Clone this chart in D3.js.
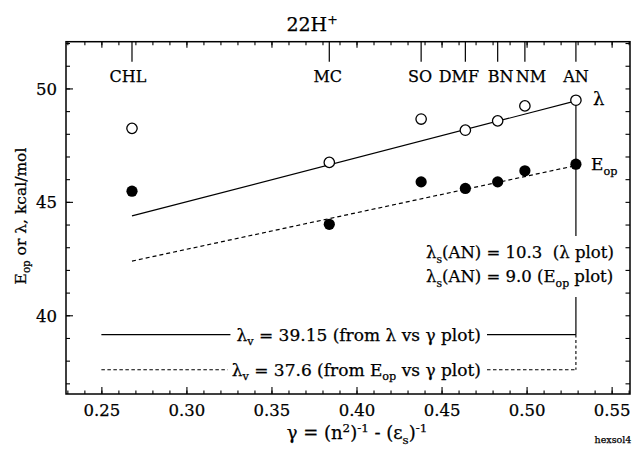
<!DOCTYPE html>
<html><head><meta charset="utf-8">
<script src="https://cdn.jsdelivr.net/npm/d3@7"></script>
<style>
html,body{margin:0;padding:0;background:#fff;}
svg text{font-family:"DejaVu Serif","Liberation Serif",serif !important;fill:#000;white-space:pre;stroke:#000;stroke-width:0.25px;}
</style></head><body>
<svg id="chart" width="639" height="449"></svg>
<script>
// Solvents and their polarity function gamma
const solvents = ["CHL", "MC", "SO", "DMF", "BN", "NM", "AN"];
const gamma = [0.268, 0.384, 0.438, 0.464, 0.483, 0.499, 0.529];
// Reorganization energy (open circles) and optical band energy (filled circles), kcal/mol
const lambdaVals = [48.24, 46.74, 48.65, 48.16, 48.57, 49.23, 49.48];
const eopVals = [45.47, 44.01, 45.88, 45.59, 45.88, 46.37, 46.66];
// Fit results
const lambdaV = 39.15, lambdaS = 10.3;   // from lambda vs gamma
const eopV = 37.6, eopS = 9.0;           // from Eop vs gamma
const fitStart = [44.38, 42.39];         // fit lines at the CHL end (lambda, Eop)
// Axis ticks
const xTickLabels = [0.25, 0.30, 0.35, 0.40, 0.45, 0.50, 0.55];
const yTickLabels = [40, 45, 50];
const xMinor = d3.range(23, 57).map(d => d / 100);
const yMinor = d3.range(37, 53);

// label nudges so neighbouring solvent names do not collide
const labelNudge = {CHL: -4, MC: -1.5, SO: -1, DMF: -6.5, BN: 3, NM: 6, AN: 0};

const svg = d3.select("#chart");
const L = 66, R = 630, T = 41.7, B = 394;
const x = d3.scaleLinear().domain([0.2292, 0.5608]).range([L, R]);
const y = d3.scaleLinear().domain([36.53, 52.06]).range([B, T]);

function rich(g, px, py, parts, size, anchor) {
  const t = g.append("text").attr("x", px).attr("y", py)
    .attr("font-size", size).attr("text-anchor", anchor || "start");
  let shift = 0;
  parts.forEach(([s, k]) => {
    const target = k === "sub" ? 0.28 * size : k === "sup" ? -0.38 * size : 0;
    t.append("tspan").attr("dy", target - shift)
      .attr("font-size", k === "n" ? size : size * 0.66).text(s);
    shift = target;
  });
  return t;
}

// axes: inward ticks on all four sides
function styleAxis(g) {
  g.select(".domain").remove();
  g.selectAll(".tick line").attr("stroke", "#000").attr("stroke-width", 1.1);
  g.selectAll("text").attr("fill", "#000");
}
svg.append("g").attr("transform", `translate(0,${B})`)
  .call(d3.axisBottom(x).tickValues(xMinor).tickSize(-3.5).tickFormat("")).call(styleAxis);
const xb = svg.append("g").attr("transform", `translate(0,${B})`)
  .call(d3.axisBottom(x).tickValues(xTickLabels).tickSize(-7).tickFormat(d3.format(".2f"))).call(styleAxis);
xb.selectAll("text").attr("y", 22).attr("dy", 0).attr("font-size", 16.5);
svg.append("g").attr("transform", `translate(0,${T})`)
  .call(d3.axisTop(x).tickValues(xMinor).tickSize(-3.5).tickFormat("")).call(styleAxis);
svg.append("g").attr("transform", `translate(0,${T})`)
  .call(d3.axisTop(x).tickValues(xTickLabels).tickSize(-6).tickFormat("")).call(styleAxis);

svg.append("g").attr("transform", `translate(${L},0)`)
  .call(d3.axisLeft(y).tickValues(yMinor).tickSize(-4).tickFormat("")).call(styleAxis);
const yl = svg.append("g").attr("transform", `translate(${L},0)`)
  .call(d3.axisLeft(y).tickValues(yTickLabels).tickSize(-7)).call(styleAxis);
yl.selectAll("text").attr("x", -9).attr("dy", "0.36em").attr("font-size", 16.5);
svg.append("g").attr("transform", `translate(${R},0)`)
  .call(d3.axisRight(y).tickValues(yMinor).tickSize(-4.5).tickFormat("")).call(styleAxis);

// frame
svg.append("rect").attr("x", L).attr("y", T).attr("width", R - L).attr("height", B - T)
  .attr("fill", "none").attr("stroke", "#000").attr("stroke-width", 1.5);

// solvent markers along the top
solvents.forEach((s, i) => {
  svg.append("line").attr("x1", x(gamma[i])).attr("x2", x(gamma[i]))
    .attr("y1", T).attr("y2", T + 20).attr("stroke", "#000").attr("stroke-width", 1.2);
  svg.append("text").attr("x", x(gamma[i]) + labelNudge[s]).attr("y", 82)
    .attr("text-anchor", "middle").attr("font-size", 16).text(s);
});

const last = gamma.length - 1;
const g0 = gamma[0], gN = gamma[last];
// linear fits
svg.append("line").attr("x1", x(g0)).attr("y1", y(fitStart[0]))
  .attr("x2", x(gN)).attr("y2", y(lambdaV + lambdaS))
  .attr("stroke", "#000").attr("stroke-width", 1.2);
svg.append("line").attr("x1", x(g0)).attr("y1", y(fitStart[1]))
  .attr("x2", x(gN)).attr("y2", y(eopV + eopS))
  .attr("stroke", "#000").attr("stroke-width", 1.2).attr("stroke-dasharray", "4,3");

// vertical drop at AN, broken around the lambda_s notes
const xa = x(gN);
svg.append("line").attr("x1", xa).attr("x2", xa).attr("y1", y(lambdaV + lambdaS)).attr("y2", 236)
  .attr("stroke", "#000").attr("stroke-width", 1.2);
svg.append("line").attr("x1", xa).attr("x2", xa).attr("y1", 297).attr("y2", y(lambdaV))
  .attr("stroke", "#000").attr("stroke-width", 1.2);
svg.append("line").attr("x1", xa).attr("x2", xa).attr("y1", y(lambdaV)).attr("y2", y(eopV))
  .attr("stroke", "#000").attr("stroke-width", 1.1).attr("stroke-dasharray", "3,2.5");

// intercept notes with leader lines
const t1 = rich(svg, 481, y(lambdaV) + 6, [["λ", "n"], ["v", "sub"], [" = 39.15 (from λ vs γ plot)", "n"]], 17, "end");
const t2 = rich(svg, 481, y(eopV) + 6, [["λ", "n"], ["v", "sub"], [" = 37.6 (from E", "n"], ["op", "sub"], [" vs γ plot)", "n"]], 17, "end");
const b1 = t1.node().getBBox(), b2 = t2.node().getBBox();
svg.append("line").attr("x1", x(0.25)).attr("x2", b1.x - 6).attr("y1", y(lambdaV)).attr("y2", y(lambdaV))
  .attr("stroke", "#000").attr("stroke-width", 1.2);
svg.append("line").attr("x1", b1.x + b1.width + 6).attr("x2", xa).attr("y1", y(lambdaV)).attr("y2", y(lambdaV))
  .attr("stroke", "#000").attr("stroke-width", 1.2);
svg.append("line").attr("x1", x(0.25)).attr("x2", b2.x - 4).attr("y1", y(eopV)).attr("y2", y(eopV))
  .attr("stroke", "#000").attr("stroke-width", 1.1).attr("stroke-dasharray", "3.5,2.5");
svg.append("line").attr("x1", b2.x + b2.width + 6).attr("x2", xa).attr("y1", y(eopV)).attr("y2", y(eopV))
  .attr("stroke", "#000").attr("stroke-width", 1.1).attr("stroke-dasharray", "3.5,2.5");

// points
svg.append("g").selectAll("circle").data(gamma).join("circle")
  .attr("cx", d => x(d)).attr("cy", (d, i) => y(lambdaVals[i])).attr("r", 5.2)
  .attr("fill", "#fff").attr("stroke", "#000").attr("stroke-width", 1.3);
svg.append("g").selectAll("circle").data(gamma).join("circle")
  .attr("cx", d => x(d)).attr("cy", (d, i) => y(eopVals[i])).attr("r", 5.6)
  .attr("fill", "#000");

// series tags
svg.append("text").attr("x", 593).attr("y", 105).attr("font-size", 18).text("λ");
rich(svg, 591, 170, [["E", "n"], ["op", "sub"]], 17);

// lambda_s notes
rich(svg, 426, 258, [["λ", "n"], ["s", "sub"], ["(AN) = 10.3  (λ plot)", "n"]], 16.5);
rich(svg, 426, 282, [["λ", "n"], ["s", "sub"], ["(AN) = 9.0 (E", "n"], ["op", "sub"], [" plot)", "n"]], 16.5);

// titles
rich(svg, 312, 31, [["22H", "n"], ["+", "sup"]], 19, "middle");
const yg = svg.append("g").attr("transform", "translate(26,216) rotate(-90)");
rich(yg, 0, 0, [["E", "n"], ["op", "sub"], [" or λ, kcal/mol", "n"]], 15.5, "middle");
rich(svg, 357, 439, [["γ = (n", "n"], ["2", "sup"], [")", "n"], ["-1", "sup"], [" - (ε", "n"], ["s", "sub"], [")", "n"], ["-1", "sup"]], 18, "middle");
svg.append("text").attr("x", 613).attr("y", 443).attr("font-size", 9.5)
  .attr("text-anchor", "middle").text("hexsol4");
</script>
</body></html>
